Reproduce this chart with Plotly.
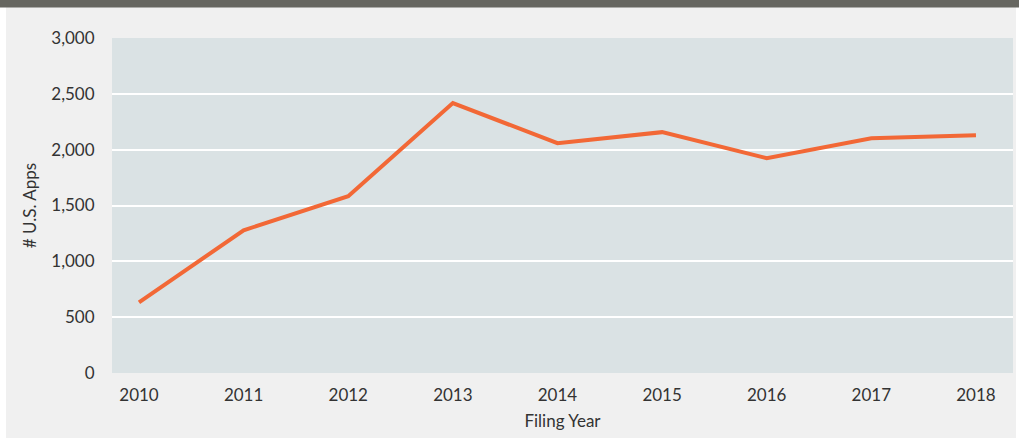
import plotly.graph_objects as go

years = [2010, 2011, 2012, 2013, 2014, 2015, 2016, 2017, 2018]
apps = [632, 1278, 1583, 2417, 2058, 2157, 1924, 2103, 2130]
y_ticks = [0, 500, 1000, 1500, 2000, 2500, 3000]
y_tick_text = ["0", "500", "1,000", "1,500", "2,000", "2,500", "3,000"]

W, H = 1019, 438
L, R, T, B = 112, 6, 38, 65
pw, ph = W - L - R, H - T - B

def px(x):
    return (x - L) / pw

def py(y):
    return (H - B - y) / ph

fig = go.Figure()
fig.add_trace(go.Scatter(
    x=years, y=apps, mode="lines",
    line=dict(color="#f26836", width=4),
    hoverinfo="x+y", showlegend=False,
))

font = "Lato, 'Open Sans', sans-serif"
fig.update_layout(
    width=W, height=H,
    margin=dict(l=L, r=R, t=T, b=B),
    paper_bgcolor="#f0f0f0",
    plot_bgcolor="#dae2e4",
    font=dict(family=font, size=17, color="#333333"),
    xaxis=dict(
        range=[2009.742, 2018.354], tickmode="array", tickvals=years,
        ticktext=[str(y) for y in years], showgrid=False, zeroline=False,
        showline=False, ticks="outside", ticklen=7, tickcolor="rgba(0,0,0,0)",
        title=dict(text="Filing Year", standoff=10, font=dict(size=17)),
        fixedrange=True,
    ),
    yaxis=dict(
        range=[0, 3000], tickmode="array", tickvals=y_ticks, ticktext=y_tick_text,
        showgrid=True, gridcolor="white", gridwidth=2, zeroline=False,
        showline=False, ticks="outside", ticklen=13, tickcolor="rgba(0,0,0,0)",
        title=dict(text="# U.S. Apps", standoff=10, font=dict(size=17)),
        fixedrange=True,
    ),
    shapes=[
        dict(type="rect", xref="paper", yref="paper", layer="below",
             x0=px(0), x1=px(6), y0=py(438), y1=py(0),
             fillcolor="white", line=dict(width=0)),
        dict(type="rect", xref="paper", yref="paper", layer="below",
             x0=px(1016), x1=px(1019), y0=py(438), y1=py(0),
             fillcolor="white", line=dict(width=0)),
        dict(type="rect", xref="paper", yref="paper", layer="below",
             x0=px(0), x1=px(1019), y0=py(7.5), y1=py(-1),
             fillcolor="#666660", line=dict(width=0)),
    ],
)

fig.write_html("out.html", config={"displayModeBar": False},
               post_script="document.body.style.margin='0';")
